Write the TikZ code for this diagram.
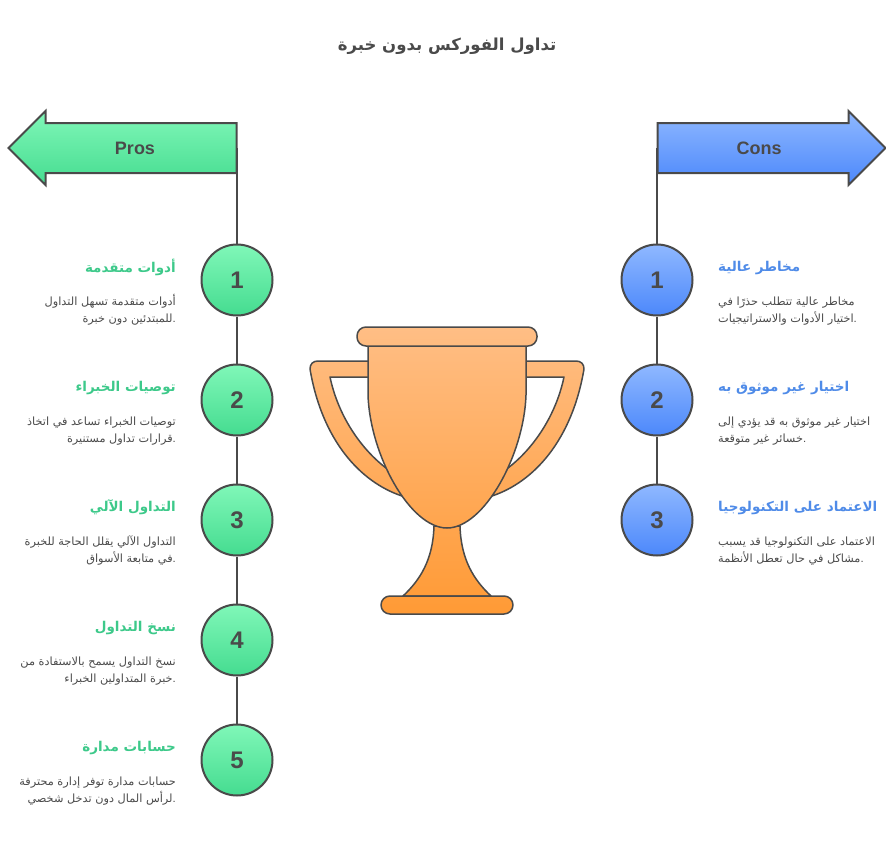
\documentclass[tikz,border=0pt]{standalone}
\usepackage{fontspec}
\setmainfont{Liberation Sans}
\newfontfamily\arabicfont[Script=Arabic]{DejaVu Sans}
\TeXXeTstate=1
\usetikzlibrary{shapes.arrows}
\newcommand{\artxt}[1]{{\arabicfont\strut\beginR #1\endR}}

\definecolor{linecol}{HTML}{4A4A4A}
\definecolor{greentop}{HTML}{80F7B8}
\definecolor{greenbot}{HTML}{45DC90}
\definecolor{bluetop}{HTML}{8FB8FF}
\definecolor{bluebot}{HTML}{4C88FB}
\definecolor{greenhead}{HTML}{3DC98A}
\definecolor{bluehead}{HTML}{4F8BE8}
\definecolor{cuptop}{HTML}{FFBE85}
\definecolor{cupbot}{HTML}{FF9A35}

\tikzset{
  banner/.style={single arrow, single arrow tip angle=90, single arrow head extend=12pt,
    minimum height=228pt, minimum width=0pt, text height=24pt, text depth=24pt, text width=0pt,
    inner sep=0pt, outer sep=0pt, draw=linecol, line width=2pt},
  prosbanner/.style={banner, shape border rotate=180, top color=greentop, bottom color=greenbot},
  consbanner/.style={banner, top color=bluetop, bottom color=bluebot},
  bannertxt/.style={text=linecol, font=\fontsize{18}{20}\selectfont\bfseries},
  num/.style={circle, minimum size=71pt, inner sep=0pt, draw=linecol, line width=2pt,
    text=linecol, font=\fontsize{24}{26}\selectfont\bfseries},
  prosnum/.style={num, top color=greentop, bottom color=greenbot},
  consnum/.style={num, top color=bluetop, bottom color=bluebot},
  spine/.style={linecol, line width=2pt},
  headtxt/.style={font=\fontsize{13.5}{17}\selectfont\bfseries, inner sep=0pt},
  prosh/.style={headtxt, anchor=east, text=greenhead},
  consh/.style={headtxt, anchor=west, text=bluehead},
  bodytxt/.style={font=\fontsize{11.3}{17}\selectfont, text=linecol, inner sep=0pt},
  prosb/.style={bodytxt, anchor=east, align=right},
  consb/.style={bodytxt, anchor=west, align=left},
  cup/.style={draw=linecol, line width=1.5pt, line join=round},
}

\begin{document}
\begin{tikzpicture}[x=1pt,y=-1pt]
\useasboundingbox (0,0) rectangle (886,843);

\node (title) at (447,47) [text=linecol, font=\fontsize{16.5}{20}\selectfont\bfseries]{\artxt{تداول الفوركس بدون خبرة}};

% banners
\node (prosarrow) at (135,148) [prosbanner]{};
\node (consarrow) at (759,148) [consbanner]{};
\node (proslabel) at (135,148) [bannertxt]{Pros};
\node (conslabel) at (759,148) [bannertxt]{Cons};

% left side
\node (pros1) at (237,280) [prosnum]{1};
\node (pros2) at (237,400) [prosnum]{2};
\node (pros3) at (237,520) [prosnum]{3};
\node (pros4) at (237,640) [prosnum]{4};
\node (pros5) at (237,760) [prosnum]{5};

\draw [spine] (pros1 |- prosarrow.tail) -- (pros1);
\draw [spine] (pros1) -- (pros2);
\draw [spine] (pros2) -- (pros3);
\draw [spine] (pros3) -- (pros4);
\draw [spine] (pros4) -- (pros5);

\node (prosh1) at (176,268) [prosh]{\artxt{أدوات متقدمة}};
\node (prosb1) at (176,311) [prosb]{\artxt{أدوات متقدمة تسهل التداول}\\\artxt{للمبتدئين دون خبرة}.};
\node (prosh2) at (176,388) [prosh]{\artxt{توصيات الخبراء}};
\node (prosb2) at (176,431) [prosb]{\artxt{توصيات الخبراء تساعد في اتخاذ}\\\artxt{قرارات تداول مستنيرة}.};
\node (prosh3) at (176,508) [prosh]{\artxt{التداول الآلي}};
\node (prosb3) at (176,551) [prosb]{\artxt{التداول الآلي يقلل الحاجة للخبرة}\\\artxt{في متابعة الأسواق}.};
\node (prosh4) at (176,628) [prosh]{\artxt{نسخ التداول}};
\node (prosb4) at (176,671) [prosb]{\artxt{نسخ التداول يسمح بالاستفادة من}\\\artxt{خبرة المتداولين الخبراء}.};
\node (prosh5) at (176,748) [prosh]{\artxt{حسابات مدارة}};
\node (prosb5) at (176,791) [prosb]{\artxt{حسابات مدارة توفر إدارة محترفة}\\\artxt{لرأس المال دون تدخل شخصي}.};

% right side
\node (cons1) at (657,280) [consnum]{1};
\node (cons2) at (657,400) [consnum]{2};
\node (cons3) at (657,520) [consnum]{3};

\draw [spine] (cons1 |- consarrow.tail) -- (cons1);
\draw [spine] (cons1) -- (cons2);
\draw [spine] (cons2) -- (cons3);

\node (consh1) at (718,268) [consh]{\artxt{مخاطر عالية}};
\node (consb1) at (718,311) [consb]{\artxt{مخاطر عالية تتطلب حذرًا في}\\\artxt{اختيار الأدوات والاستراتيجيات}.};
\node (consh2) at (718,388) [consh]{\artxt{اختيار غير موثوق به}};
\node (consb2) at (718,431) [consb]{\artxt{اختيار غير موثوق به قد يؤدي إلى}\\\artxt{خسائر غير متوقعة}.};
\node (consh3) at (718,508) [consh]{\artxt{الاعتماد على التكنولوجيا}};
\node (consb3) at (718,551) [consb]{\artxt{الاعتماد على التكنولوجيا قد يسبب}\\\artxt{مشاكل في حال تعطل الأنظمة}.};

% trophy
\draw [cup, top color=cupbot!12!cuptop, bottom color=cupbot!59!cuptop]
  (375,361) -- (318,361) .. controls (313,361) and (310,364) .. (310,369)
  .. controls (322,440) and (360,482) .. (402,496) -- (410,480) -- (386,468)
  .. controls (360,448) and (338,415) .. (330,377) -- (375,377) -- cycle;
\draw [cup, top color=cupbot!12!cuptop, bottom color=cupbot!59!cuptop]
  (519,361) -- (576,361) .. controls (581,361) and (584,364) .. (584,369)
  .. controls (572,440) and (534,482) .. (492,496) -- (484,480) -- (508,468)
  .. controls (534,448) and (556,415) .. (564,377) -- (519,377) -- cycle;
\draw [cup, top color=cupbot!70!cuptop, bottom color=cupbot!94!cuptop]
  (434,526) .. controls (433,560) and (420,580) .. (403,596) -- (491,596)
  .. controls (474,580) and (461,560) .. (460,526) -- cycle;
\draw [cup, top color=cupbot!7!cuptop, bottom color=cupbot!70!cuptop]
  (368,346) -- (368,395) .. controls (370,455) and (410,528) .. (447,528)
  .. controls (484,528) and (524,455) .. (526,395) -- (526,346) -- cycle;
\draw [cup, rounded corners=9pt, top color=cuptop, bottom color=cupbot!7!cuptop]
  (357,327) rectangle (537,346);
\draw [cup, rounded corners=9pt, top color=cupbot!93!cuptop, bottom color=cupbot]
  (381,596) rectangle (513,614);
\end{tikzpicture}
\end{document}
